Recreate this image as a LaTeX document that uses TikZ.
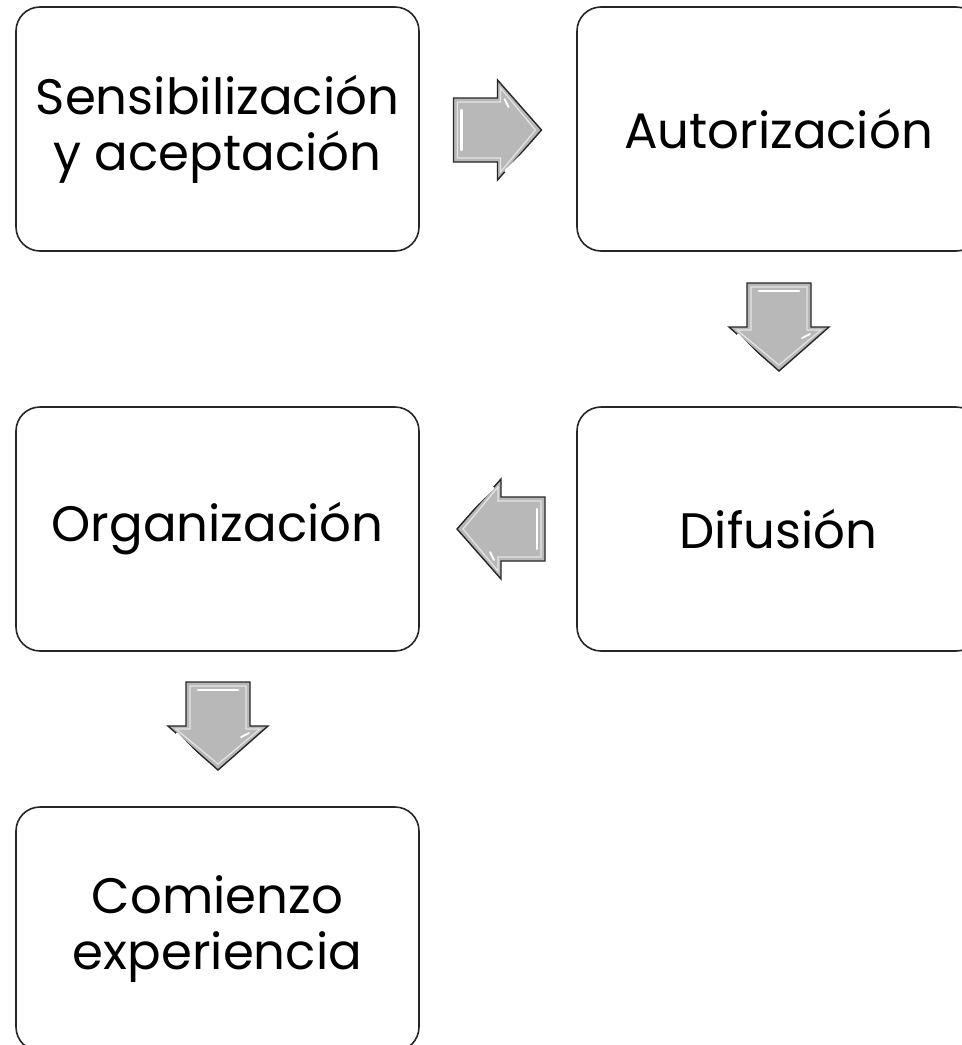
\documentclass[tikz,border=0pt]{standalone}
\usepackage{fontspec}
\setmainfont{Poppins}
\tikzset{
  x=1bp, y=-1bp,
  stepbox/.style={draw=black!85, line width=1.6bp, rounded corners=24bp, fill=white,
    minimum width=403bp, minimum height=244bp, align=center, inner sep=0pt,
    font=\fontsize{50}{56}\selectfont},
  arrowfill/.style={fill=black!28, draw=black!85, line width=1.4bp, line join=miter},
  glint/.style={draw=white, line width=2.6bp, line cap=round},
  blockarrow/.pic={
    \path[arrowfill] (-44,-32) -- (0,-32) -- (0,-50) -- (44,0) -- (0,50) -- (0,32) -- (-44,32) -- cycle;
    \path[draw=black!10, line width=1.2bp] (-40,-28) -- (3,-28) -- (3,-42) -- (38,0) -- (3,42) -- (3,28) -- (-40,28) -- cycle;
    \path[glint] (-36,-20) -- (-36,20);
    \path[glint] (33,17) -- (8,41);
    \path[glint, line width=1.8bp] (7,-31) -- (11,-23);
  }
}
\begin{document}
\begin{tikzpicture}
\useasboundingbox (0,0) rectangle (962,1045);
\clip (0,0) rectangle (962,1045);
\fill[white] (0,0) rectangle (962,1045);
\node[stepbox] (sens) at (217.5,129) {Sensibilización\\y aceptación};
\node[stepbox] (auto) at (778.5,129) {Autorización};
\node[stepbox] (difu) at (778.5,529) {Difusión};
\node[stepbox] (orga) at (217.5,529) {Organización};
\node[stepbox] (comi) at (217.5,929) {Comienzo\\experiencia};
\pic at (497.5,130) {blockarrow};
\pic[rotate=-90] at (779,327) {blockarrow};
\pic[rotate=180] at (501,529) {blockarrow};
\pic[rotate=-90] at (218,726) {blockarrow};
\end{tikzpicture}
\end{document}
